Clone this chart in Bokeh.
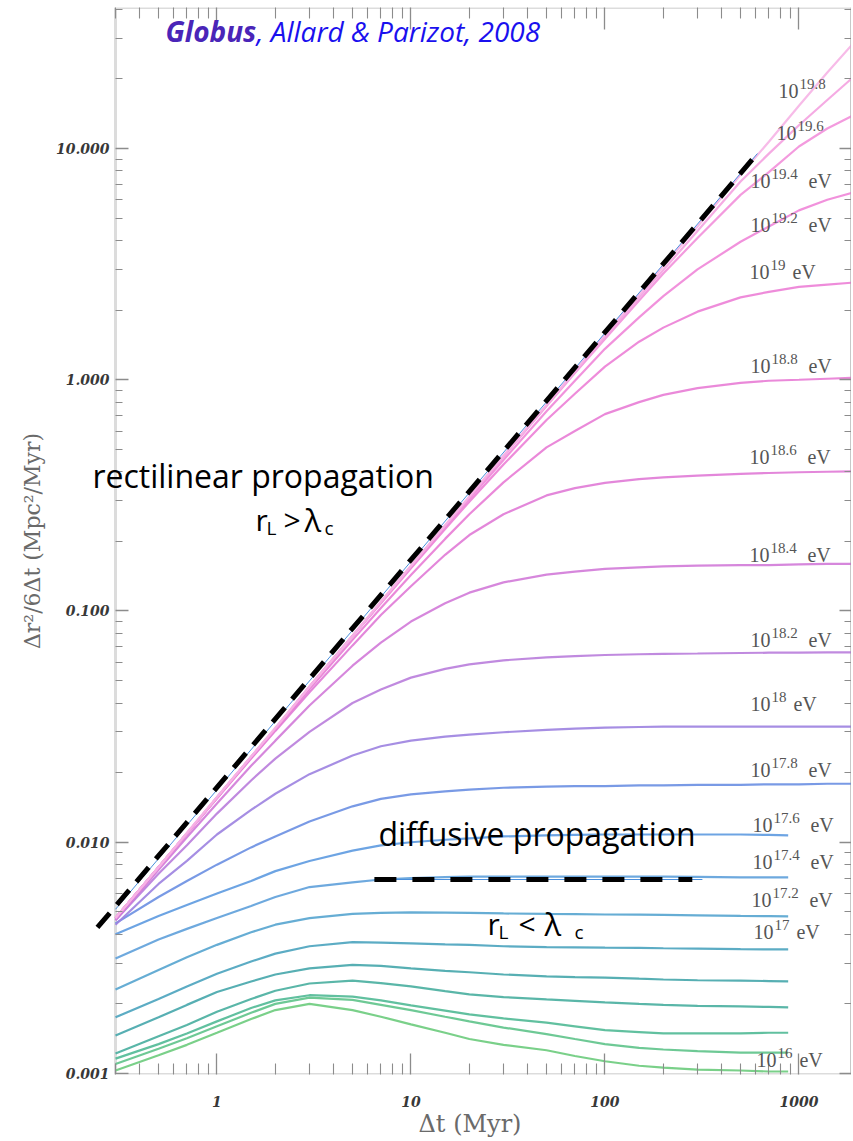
from bokeh.plotting import figure
from bokeh.models import LogAxis, FixedTicker, CustomJSTickFormatter, Label, BoxAnnotation
from bokeh.embed import file_html
from bokeh.resources import INLINE

# ---------------- data ----------------
t_hi = [0.3, 0.5, 0.7, 1, 1.5, 2, 3, 5, 7, 10, 15, 20, 30, 50, 70, 100, 150, 200, 300, 500, 700, 1000, 1400, 1900]
t_lo = [0.3, 0.5, 0.7, 1, 1.5, 2, 3, 5, 7, 10, 15, 20, 30, 50, 70, 100, 150, 200, 300, 500, 700, 880]

D_160 = [0.00103, 0.00120, 0.00133, 0.00150, 0.00172, 0.00188, 0.00200, 0.00188, 0.00176, 0.00163, 0.00150, 0.00141, 0.00133, 0.00126, 0.00119, 0.00113, 0.00108, 0.00106, 0.00104, 0.00103, 0.00102, 0.00102]
D_162 = [0.00110, 0.00128, 0.00142, 0.00160, 0.00183, 0.00200, 0.00213, 0.00208, 0.00198, 0.00188, 0.00176, 0.00168, 0.00158, 0.00148, 0.00141, 0.00134, 0.00129, 0.00127, 0.00125, 0.00123, 0.00123, 0.00123]
D_164 = [0.00116, 0.00134, 0.00149, 0.00168, 0.00192, 0.00207, 0.00218, 0.00215, 0.00207, 0.00197, 0.00187, 0.00180, 0.00173, 0.00166, 0.00160, 0.00154, 0.00151, 0.00149, 0.00149, 0.00149, 0.00150, 0.00150]
D_166 = [0.00122, 0.00145, 0.00162, 0.00185, 0.00210, 0.00228, 0.00245, 0.00252, 0.00246, 0.00238, 0.00227, 0.00220, 0.00214, 0.00209, 0.00206, 0.00203, 0.00200, 0.00198, 0.00196, 0.00195, 0.00194, 0.00193]
D_168 = [0.00146, 0.00175, 0.00198, 0.00225, 0.00250, 0.00268, 0.00285, 0.00295, 0.00292, 0.00285, 0.00278, 0.00274, 0.00268, 0.00263, 0.00261, 0.00260, 0.00257, 0.00255, 0.00253, 0.00252, 0.00251, 0.00250]
D_170 = [0.00175, 0.00210, 0.00238, 0.00270, 0.00305, 0.00330, 0.00355, 0.00370, 0.00368, 0.00365, 0.00362, 0.00360, 0.00355, 0.00352, 0.00351, 0.00350, 0.00349, 0.00348, 0.00347, 0.00345, 0.00344, 0.00344]
D_172 = [0.00231, 0.00280, 0.00318, 0.00360, 0.00408, 0.00440, 0.00470, 0.00490, 0.00495, 0.00497, 0.00496, 0.00495, 0.00492, 0.00490, 0.00489, 0.00487, 0.00486, 0.00485, 0.00483, 0.00480, 0.00479, 0.00478]
D_174 = [0.00314, 0.00380, 0.00422, 0.00470, 0.00530, 0.00580, 0.00640, 0.00670, 0.00690, 0.00700, 0.00706, 0.00710, 0.00710, 0.00710, 0.00710, 0.00710, 0.00710, 0.00710, 0.00708, 0.00705, 0.00705, 0.00705]
D_176 = [0.00400, 0.00480, 0.00535, 0.00600, 0.00680, 0.00750, 0.00830, 0.00920, 0.00970, 0.01000, 0.01025, 0.01040, 0.01060, 0.01070, 0.01075, 0.01080, 0.01080, 0.01080, 0.01080, 0.01080, 0.01075, 0.01070]

D_178 = [0.00446, 0.0058, 0.0068, 0.0080, 0.0095, 0.0106, 0.0123, 0.0143, 0.0154, 0.0161, 0.0166, 0.0169, 0.0172, 0.0174, 0.0175, 0.0175, 0.0176, 0.0176, 0.0177, 0.0177, 0.0178, 0.0178, 0.0179, 0.0179]
D_180 = [0.0044, 0.0066, 0.0083, 0.0108, 0.0138, 0.0162, 0.0197, 0.0237, 0.0260, 0.0275, 0.0286, 0.0292, 0.0299, 0.0306, 0.0310, 0.0313, 0.0315, 0.0316, 0.0316, 0.0316, 0.0316, 0.0316, 0.0316, 0.0316]
D_182 = [0.0046, 0.0073, 0.0097, 0.0133, 0.0185, 0.0230, 0.0300, 0.0400, 0.0458, 0.0515, 0.0562, 0.0588, 0.0612, 0.0630, 0.0638, 0.0645, 0.0650, 0.0653, 0.0655, 0.0658, 0.0660, 0.0661, 0.0662, 0.0662]
D_184 = [0.0046, 0.0076, 0.0105, 0.0147, 0.0214, 0.0275, 0.0390, 0.0580, 0.0730, 0.0900, 0.108, 0.120, 0.133, 0.1437, 0.148, 0.152, 0.1545, 0.156, 0.157, 0.158, 0.158, 0.159, 0.160, 0.160]
D_186 = [0.0047, 0.0078, 0.0109, 0.0155, 0.0230, 0.0303, 0.0445, 0.071, 0.096, 0.128, 0.175, 0.213, 0.262, 0.316, 0.340, 0.358, 0.372, 0.378, 0.385, 0.392, 0.395, 0.398, 0.400, 0.402]
D_188 = [0.0047, 0.0078, 0.0109, 0.0155, 0.0232, 0.0307, 0.046, 0.075, 0.103, 0.143, 0.205, 0.262, 0.36, 0.51, 0.60, 0.71, 0.80, 0.86, 0.92, 0.97, 0.99, 1.00, 1.01, 1.02]
D_190 = [0.0047, 0.0078, 0.0109, 0.0156, 0.0234, 0.031, 0.047, 0.078, 0.108, 0.153, 0.226, 0.297, 0.43, 0.67, 0.87, 1.14, 1.46, 1.68, 1.97, 2.27, 2.40, 2.52, 2.58, 2.63]
D_192 = [0.0047, 0.0078, 0.0109, 0.0156, 0.0234, 0.031, 0.047, 0.078, 0.109, 0.155, 0.232, 0.305, 0.45, 0.73, 0.99, 1.36, 1.86, 2.30, 3.00, 3.95, 4.60, 5.40, 6.00, 6.45]
D_194 = [0.0047, 0.0078, 0.0109, 0.0156, 0.0234, 0.031, 0.047, 0.078, 0.109, 0.156, 0.233, 0.310, 0.465, 0.77, 1.07, 1.50, 2.20, 2.88, 4.10, 6.30, 7.90, 10.2, 12.2, 13.9]
D_196 = [0.0047, 0.0078, 0.0109, 0.0156, 0.0234, 0.031, 0.047, 0.078, 0.109, 0.156, 0.234, 0.310, 0.467, 0.775, 1.08, 1.53, 2.27, 2.98, 4.40, 7.20, 9.50, 12.6, 16.2, 20.3]
D_198 = [0.0047, 0.0078, 0.0110, 0.0157, 0.0235, 0.0313, 0.047, 0.078, 0.110, 0.157, 0.235, 0.313, 0.470, 0.780, 1.09, 1.56, 2.33, 3.10, 4.60, 7.70, 10.7, 15.3, 21.3, 28.4]

low_curves = [D_160, D_162, D_164, D_166, D_168, D_170, D_172, D_174, D_176]
high_curves = [D_178, D_180, D_182, D_184, D_186, D_188, D_190, D_192, D_194, D_196, D_198]

low_colors = ["#6ccb7c", "#5ec38a", "#50b995", "#48ae9f", "#45a6ab", "#4aa3be", "#55a4cf", "#5ea0da", "#5d9ae0"]
high_colors = ["#6a8fe2", "#9c82e0", "#b97ddc", "#d27ad8", "#e07ad6", "#e87cd5", "#ec80d6", "#f086d8", "#f290da", "#f4a2e0", "#f6b4e6"]

# curve labels: exponent, with "eV", anchor (t, value of the text baseline)
lab_exp = ["19.8", "19.6", "19.4", "19.2", "19", "18.8", "18.6", "18.4", "18.2", "18", "17.8", "17.6", "17.4", "17.2", "17", "16"]
lab_ev = [False, False, True, True, True, True, True, True, True, True, True, True, True, True, True, True]
lab_t = [784, 766, 562, 562, 556, 562, 556, 556, 562, 562, 562, 576, 576, 569, 583, 604]
lab_v = [16.4, 10.8, 6.71, 4.33, 2.69, 1.06, 0.426, 0.162, 0.0689, 0.0364, 0.0189, 0.0110, 0.00755, 0.00522, 0.00376, 0.00106]

# axis extent (data) and guide lines drawn on the slide
t_axis_start = 0.3
diag_t = [0.242, 611]
diag_v = [0.00428, 9.51]
diag_blue_t = [0.3, 611]
diag_blue_v = [0.00513, 9.51]
horiz_t = [6.48, 282]
horiz_blue_t = [6.48, 318]
horiz_v = [0.0069, 0.0069]

# ---------------- figure ----------------
# the frame reaches a little left of the y axis so that the slide's text can overhang it
p = figure(x_axis_type="log", y_axis_type="log",
           x_range=(0.2177, 1866), y_range=(0.00099, 40.7),
           frame_width=763, frame_height=1067,
           min_border_left=88, min_border_right=0, min_border_top=7, min_border_bottom=67,
           output_backend="svg", toolbar_location=None,
           background_fill_color="white", border_fill_color="white",
           outline_line_color=None)
p.xgrid.visible = False
p.ygrid.visible = False

x_major = [1, 10, 100, 1000]
x_minor = [k * 10.0 ** e for e in range(-1, 4) for k in range(2, 10) if k * 10.0 ** e >= 0.3]
y_major = [0.001, 0.01, 0.1, 1, 10]
y_minor = [k * 10.0 ** e for e in range(-3, 2) for k in range(2, 10)]

AX = "#8c8c8c"
blank = "return '';"


def style_axis(ax, major_in, minor_in):
    ax.axis_line_color = AX
    ax.axis_line_width = 1.5
    ax.major_tick_line_color = AX
    ax.minor_tick_line_color = AX
    ax.major_tick_line_width = 1.3
    ax.minor_tick_line_width = 1.1
    ax.major_tick_in = major_in
    ax.major_tick_out = 0
    ax.minor_tick_in = minor_in
    ax.minor_tick_out = 0
    ax.major_label_text_font = "DejaVu Serif"
    ax.major_label_text_font_style = "bold italic"
    ax.major_label_text_font_size = "14px"
    ax.major_label_text_color = "#383838"
    ax.axis_label_text_font = "DejaVu Serif"
    ax.axis_label_text_font_style = "normal"
    ax.axis_label_text_font_size = "22px"
    ax.axis_label_text_color = "#6a6a6a"


xb = p.xaxis[0]
xb.ticker = FixedTicker(ticks=x_major, minor_ticks=x_minor)
xb.formatter = CustomJSTickFormatter(code="return tick.toFixed(0);")
style_axis(xb, 21, 11)
xb.axis_line_color = None
xb.major_label_standoff = 21
xb.axis_label = "Δt (Myr)"
xb.axis_label_text_font_size = "24px"
xb.axis_label_standoff = 0

# left axis in the side panel: only the tick labels and the axis title
yl = p.yaxis[0]
yl.ticker = FixedTicker(ticks=y_major, minor_ticks=[])
yl.formatter = CustomJSTickFormatter(code="return tick.toFixed(3);")
style_axis(yl, 0, 0)
yl.axis_line_color = None
yl.major_tick_line_color = None
yl.minor_tick_line_color = None
yl.major_label_standoff = -21
yl.axis_label = "Δr²/6Δt (Mpc²/Myr)"
yl.axis_label_standoff = 8

# ticks of the y axis, drawn where the axis really is
yfix = LogAxis(ticker=FixedTicker(ticks=y_major, minor_ticks=y_minor),
               formatter=CustomJSTickFormatter(code=blank), fixed_location=t_axis_start)
style_axis(yfix, 13, 7)
yfix.axis_line_color = None
yfix.major_label_standoff = 0
yfix.major_label_text_font_size = "1px"
p.add_layout(yfix, "left")

xt = LogAxis(ticker=FixedTicker(ticks=x_major, minor_ticks=x_minor),
             formatter=CustomJSTickFormatter(code=blank))
style_axis(xt, 22, 11)
xt.axis_line_color = None
xt.major_label_standoff = 0
xt.major_label_text_font_size = "1px"
p.add_layout(xt, "above")

yr = LogAxis(ticker=FixedTicker(ticks=y_major, minor_ticks=y_minor),
             formatter=CustomJSTickFormatter(code=blank))
style_axis(yr, 12, 7)
yr.major_label_standoff = 0
yr.major_label_text_font_size = "1px"
p.add_layout(yr, "right")

# plot box from the y axis to the right edge
p.add_layout(BoxAnnotation(left=t_axis_start, fill_alpha=0, line_color=AX, line_width=3,
                           level="underlay"))

# curves
for vals, col in zip(low_curves, low_colors):
    p.line(t_lo, vals, line_color=col, line_width=2.2, line_alpha=0.9)
for vals, col in zip(high_curves, high_colors):
    p.line(t_hi, vals, line_color=col, line_width=2.2, line_alpha=0.9)

# thin blue guides under the dashed lines
p.line(diag_blue_t, diag_blue_v, line_color="#4a8fdc", line_width=1)
p.line(horiz_blue_t, horiz_v, line_color="#4a8fdc", line_width=1)

# dashed guides
p.line(diag_t, diag_v, line_color="black", line_width=5, line_dash="19 11")
p.line(horiz_t, horiz_v, line_color="black", line_width=5, line_dash="22 16")

# curve labels
LAB = "#555555"
for e, ev, tx, vy in zip(lab_exp, lab_ev, lab_t, lab_v):
    p.add_layout(Label(x=tx, y=vy, text="10", text_font="Liberation Serif",
                       text_font_size="20px", text_color=LAB, text_baseline="alphabetic",
                       y_offset=8))
    p.add_layout(Label(x=tx, y=vy, text=e, text_font="Liberation Serif",
                       text_font_size="15px", text_color=LAB, text_baseline="alphabetic",
                       x_offset=21, y_offset=15))
    if ev:
        p.add_layout(Label(x=tx, y=vy, text="eV", text_font="Liberation Serif",
                           text_font_size="20px", text_color=LAB, text_baseline="alphabetic",
                           x_offset=28 + 7.5 * len(e), y_offset=8))

# slide annotations
SANS = "Open Sans"
p.add_layout(Label(x=0.543, y=28.2, text="Globus", text_font=SANS, text_font_style="bold italic",
                   text_font_size="28px", text_color="#4a25b8", text_baseline="alphabetic",
                   y_offset=13))
p.add_layout(Label(x=0.543, y=28.2, text=", Allard & Parizot, 2008", text_font=SANS,
                   text_font_style="italic", text_font_size="28px", text_color="#1a10ee",
                   text_baseline="alphabetic", x_offset=91, y_offset=13))

p.add_layout(Label(x=0.228, y=0.339, text="rectilinear propagation", text_font=SANS,
                   text_font_size="32px", text_color="black", text_baseline="alphabetic",
                   y_offset=13))
p.add_layout(Label(x=6.8, y=0.00948, text="diffusive propagation", text_font=SANS,
                   text_font_size="32px", text_color="black", text_baseline="alphabetic",
                   y_offset=14))


def rl_lambda(tx, vy, sym, offs):
    parts = [("r", 0, 14, "30px"), ("L", offs[0], 6, "19px"), (sym, offs[1], 14, "30px"),
             ("λ", offs[2], 14, "31px"), ("c", offs[3], 6, "19px")]
    for txt, dx, dy, fs in parts:
        p.add_layout(Label(x=tx, y=vy, text=txt, text_font=SANS, text_font_size=fs,
                           text_color="black", text_baseline="alphabetic",
                           x_offset=dx, y_offset=dy))


rl_lambda(1.58, 0.216, ">", [11, 28, 49, 69])
rl_lambda(24.8, 0.00387, "<", [11, 31, 57, 87])

open("out.html", "w").write(file_html(p, INLINE))
